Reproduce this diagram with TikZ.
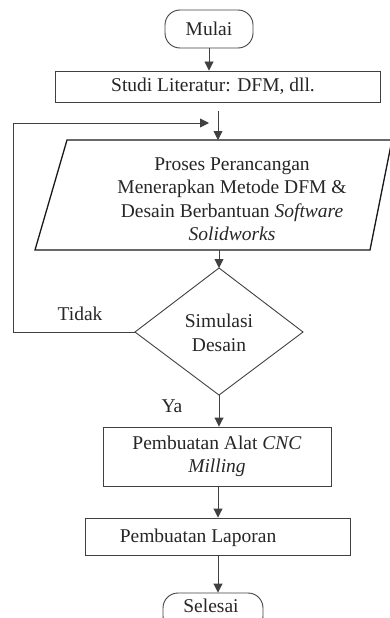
\documentclass[tikz,border=0pt]{standalone}
\usepackage{fontspec}
\setmainfont{Liberation Serif}
\usetikzlibrary{arrows.meta}
\begin{document}
\begin{tikzpicture}[x=1pt,y=-1pt,
  line width=0.9pt,
  every node/.style={font=\fontsize{19.5}{23.5}\selectfont, text=black!85},
  ln/.style={draw=black!75},
  arr/.style={ln,-{Triangle[length=9pt,width=9pt]}},
  term/.style={draw=black!75, rounded corners=15pt, inner sep=0pt},
  box/.style={draw=black!75, inner sep=0pt}]
\useasboundingbox (0,0) rectangle (390,618);
\clip (0,0) rectangle (390,618);
% start
\node[term, minimum width=88pt, minimum height=38pt] (mulai) at (209,29) {Mulai};
% literature
\node[box, minimum width=325pt, minimum height=31pt] (studi) at (217.5,86.5) {};
\node (studit) at (213,86.5) {Studi Literatur: DFM, dll.};
% design process (parallelogram)
\coordinate (ptl) at (67,140);
\coordinate (ptr) at (392,140);
\coordinate (pbr) at (370,250);
\coordinate (pbl) at (35,250);
\draw[draw=black!90, line width=1.3pt] (ptl) -- (ptr) -- (pbr) -- (pbl) -- cycle;
\node[align=center] (proses) at (232,199) {Proses Perancangan\\Menerapkan Metode DFM \&\\Desain Berbantuan \textit{Software}\\\textit{Solidworks}};
% decision
\coordinate (dt) at (219,268);
\coordinate (dr) at (303,332);
\coordinate (db) at (219,395);
\coordinate (dl) at (135,332);
\draw[ln] (dt) -- (dr) -- (db) -- (dl) -- cycle;
\node[align=center] (sim) at (219,333) {Simulasi\\Desain};
% CNC
\node[box, minimum width=228pt, minimum height=59pt, align=center] (alat) at (217,456.5) {Pembuatan Alat \textit{CNC}\\\textit{Milling}};
% report
\node[box, minimum width=265pt, minimum height=37pt] (lap) at (217.5,536.5) {};
\node (lapt) at (198,538) {Pembuatan Laporan};
% end
\node[term, minimum width=100pt, minimum height=38pt] (selesai) at (213,612) {};
\node (selt) at (211,606) {Selesai};
% labels
\node (tidak) at (80,314) {Tidak};
\node (ya) at (172,406) {Ya};
% connectors
\coordinate (s1) at (218,111);
\coordinate (ptop) at (218,140);
\coordinate (fb) at (209,123);
\coordinate (fbc1) at (13,332);
\coordinate (fbc2) at (13,123);
\coordinate (pbot) at (219,250);
\draw[arr] (mulai.south) -- (mulai.south |- studi.north);
\draw[arr] (s1) -- (ptop);
\draw[arr] (dl) -- (fbc1) -- (fbc2) -- (fb);
\draw[arr] (pbot) -- (dt);
\draw[arr] (db) -- (db |- alat.north);
\coordinate (a1) at (218,486);
\draw[arr] (a1) -- (a1 |- lap.north);
\coordinate (l1) at (218,555);
\draw[arr] (l1) -- (l1 |- selesai.north);
\end{tikzpicture}
\end{document}
